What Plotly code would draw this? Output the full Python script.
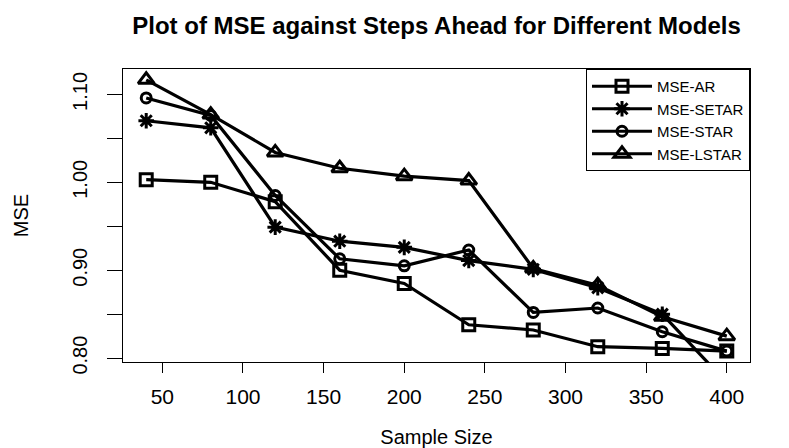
import plotly.graph_objects as go

sample_size = [40, 80, 120, 160, 200, 240, 280, 320, 360, 400]
mse_ar = [1.003, 1.000, 0.978, 0.900, 0.885, 0.838, 0.832, 0.813, 0.811, 0.808]
mse_setar = [1.070, 1.062, 0.949, 0.933, 0.926, 0.911, 0.901, 0.880, 0.850, 0.772]
mse_star = [1.096, 1.076, 0.985, 0.913, 0.905, 0.923, 0.852, 0.857, 0.830, 0.808]
mse_lstar = [1.1166, 1.077, 1.034, 1.016, 1.007, 1.002, 0.902, 0.883, 0.847, 0.825]

series_names = ["MSE-AR", "MSE-SETAR", "MSE-STAR", "MSE-LSTAR"]
series_values = [mse_ar, mse_setar, mse_star, mse_lstar]
symbols = ["square-open", "asterisk-open", "circle-open", "triangle-up-open"]
sizes = [12, 13, 10, 14]

y_tickvals = [0.80, 0.85, 0.90, 0.95, 1.00, 1.05, 1.10]
y_ticktext = ["0.80", "", "0.90", "", "1.00", "", "1.10"]
x_tickvals = [50, 100, 150, 200, 250, 300, 350, 400]

FONT = "Liberation Sans, Arial, sans-serif"

fig = go.Figure()
for name, vals, sym, sz in zip(series_names, series_values, symbols, sizes):
    fig.add_trace(go.Scatter(
        x=sample_size, y=vals, name=name, mode="lines+markers",
        line=dict(color="black", width=3.2),
        marker=dict(symbol=sym, size=sz, color="black",
                    line=dict(color="black", width=3)),
        cliponaxis=True,
    ))

fig.update_layout(
    width=789, height=448,
    margin=dict(l=114, r=47, t=61, b=87),
    paper_bgcolor="white", plot_bgcolor="white",
    font=dict(family=FONT, color="black"),
    title=dict(text="<b>Plot of MSE against Steps Ahead for Different Models</b>",
               x=0.5, xref="paper", y=1 - 18 / 448, yref="container",
               xanchor="center", yanchor="middle",
               font=dict(size=24, family=FONT, color="black")),
    showlegend=True,
    legend=dict(x=1, y=1, xanchor="right", yanchor="top",
                bgcolor="white", bordercolor="black", borderwidth=1,
                font=dict(size=15, family=FONT, color="black"),
                itemwidth=60, tracegroupgap=0),
    xaxis=dict(range=[25.6, 414.4], tickvals=x_tickvals,
               ticks="outside", ticklen=10, tickwidth=1, tickcolor="black",
               showline=True, linecolor="black", linewidth=1, mirror=True,
               showgrid=False, zeroline=False,
               tickfont=dict(size=21, family=FONT, color="black"),
               ticklabelstandoff=6,
               title=dict(text="Sample Size", standoff=22,
                          font=dict(size=20, family=FONT, color="black"))),
    yaxis=dict(range=[0.7956, 1.1289], tickvals=y_tickvals, ticktext=y_ticktext,
               ticks="outside", ticklen=15, tickwidth=1, tickcolor="black",
               showline=True, linecolor="black", linewidth=1, mirror=True,
               showgrid=False, zeroline=False, tickangle=-90,
               tickfont=dict(size=20, family=FONT, color="black"),
               ticklabelstandoff=12,
               title=dict(text="MSE", standoff=35,
                          font=dict(size=20, family=FONT, color="black"))),
)

fig.write_html("out.html")
